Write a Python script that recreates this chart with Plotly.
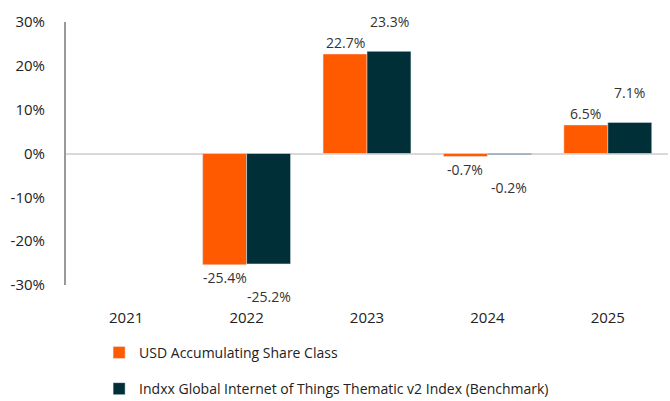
import plotly.graph_objects as go

years = ["2021", "2022", "2023", "2024", "2025"]
fund = [None, -25.4, 22.7, -0.7, 6.5]
bench = [None, -25.2, 23.3, -0.2, 7.1]
fund_name = "USD Accumulating Share Class"
bench_name = "Indxx Global Internet of Things Thematic v2 Index (Benchmark)"
tick_vals = [-30, -20, -10, 0, 10, 20, 30]
tick_text = ["-30%", "-20%", "-10%", "0%", "10%", "20%", "30%"]

ORANGE = "#FF5A00"
DARK = "#002F38"
FONT = "Open Sans"

fig = go.Figure()
fig.add_bar(x=years, y=fund, name=fund_name, marker_color=ORANGE, legendgroup="a")
fig.add_bar(x=years, y=bench, name=bench_name, marker_color=DARK, legendgroup="b")

annots = []
for i, v in enumerate(fund):
    if v is None:
        continue
    annots.append(dict(x=i, y=v, xref="x", yref="y", text=f"{v:.1f}%", showarrow=False,
                       xshift=-22, yshift=(12 if v >= 0 else -13),
                       font=dict(family=FONT, size=14, color="#333333")))
for i, v in enumerate(bench):
    if v is None:
        continue
    annots.append(dict(x=i, y=v, xref="x", yref="y", text=f"{v:.1f}%", showarrow=False,
                       xshift=22, yshift=(30 if v >= 0 else -33),
                       font=dict(family=FONT, size=14, color="#333333")))

fig.update_layout(
    width=670, height=401,
    margin=dict(l=66, r=2, t=22, b=116),
    paper_bgcolor="white", plot_bgcolor="white",
    barmode="group", bargap=0.27, bargroupgap=0,
    font=dict(family=FONT, size=14, color="#222222"),
    showlegend=True,
    legend=dict(orientation="v", x=0.055, xanchor="left",
                yref="container", y=0.16, yanchor="top",
                tracegroupgap=15, traceorder="grouped",
                font=dict(family=FONT, size=14, color="#222222"),
                itemwidth=30),
    annotations=annots,
    xaxis=dict(type="category", range=[-0.5, 4.5], showgrid=False, showline=False, ticks="",
               ticklabelstandoff=22, tickfont=dict(size=15)),
    yaxis=dict(range=[-30, 30], tickvals=tick_vals, ticktext=tick_text,
               showgrid=False, zeroline=True, zerolinecolor="#D9D9D9", zerolinewidth=2,
               showline=True, linecolor="#999999", linewidth=2,
               ticks="", ticklabelstandoff=16, tickfont=dict(size=15)),
)

fig.write_html("out.html")
